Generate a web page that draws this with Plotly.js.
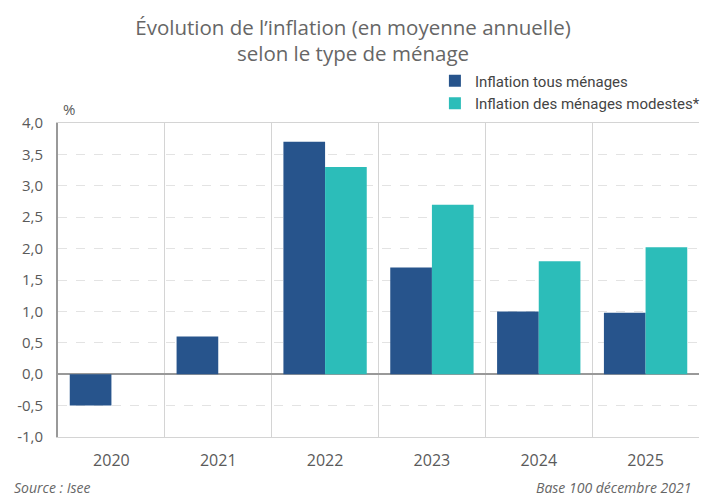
<!DOCTYPE html>
<html>
<head>
<meta charset="utf-8">
<script src="https://cdn.plot.ly/plotly-3.0.1.min.js"></script>
<style>
html,body{margin:0;padding:0;background:#fff;}
#plot{width:706px;height:496px;}
</style>
</head>
<body>
<div id="plot"></div>
<script>
/*data*/
var annees = ['2020', '2021', '2022', '2023', '2024', '2025'];
var tousMenages = [-0.5, 0.6, 3.7, 1.7, 1.0, 0.98];
var menagesModestes = [null, null, 3.3, 2.7, 1.8, 2.02];
var yTicks = [-1, -0.5, 0, 0.5, 1, 1.5, 2, 2.5, 3, 3.5, 4];
var yLabels = ['-1,0', '-0,5', '0,0', '0,5', '1,0', '1,5', '2,0', '2,5', '3,0', '3,5', '4,0'];

var txt = '#5a5a5a';
var fnt = '"Open Sans", sans-serif';

var trc = [];
trc[0] = {
    x: annees,
    y: tousMenages,
    type: 'bar',
    name: 'Inflation tous ménages',
    marker: {color: '#27548c'},
    hoverinfo: 'none'
};
trc[1] = {
    x: annees,
    y: menagesModestes,
    type: 'bar',
    name: 'Inflation des ménages modestes*',
    marker: {color: '#2cbdb9'},
    hoverinfo: 'none'
};

var layout = {
    width: 706,
    height: 496,
    margin: {l: 58, r: 1, t: 123, b: 59, pad: 0},
    paper_bgcolor: '#fff',
    plot_bgcolor: '#fff',
    barmode: 'group',
    bargap: 0.22,
    bargroupgap: 0,
    font: {family: fnt, color: txt},
    title: {
        text: 'Évolution de l’inflation (en moyenne annuelle)<br>selon le type de ménage',
        font: {family: fnt, size: 20.5, color: '#666'},
        x: 0.5,
        xanchor: 'center',
        xref: 'container',
        yref: 'container',
        y: 0.93,
        yanchor: 'middle'
    },
    showlegend: true,
    legend: {
        x: 0.588,
        xanchor: 'left',
        y: 1.099,
        yanchor: 'middle',
        font: {family: 'Roboto, sans-serif', size: 15, color: '#444'},
        itemwidth: 30,
        tracegroupgap: 0,
        traceorder: 'normal',
        bgcolor: 'rgba(0,0,0,0)'
    },
    xaxis: {
        type: 'category',
        tickson: 'boundaries',
        showgrid: true,
        gridcolor: '#d4d4d4',
        gridwidth: 1,
        showline: true,
        linecolor: '#d4d4d4',
        linewidth: 1,
        mirror: true,
        ticks: '',
        tickfont: {family: fnt, size: 16, color: txt},
        ticklabelstandoff: 9,
        fixedrange: true
    },
    yaxis: {
        range: [-1, 4],
        tickvals: yTicks,
        ticktext: yLabels,
        showgrid: true,
        gridcolor: '#e3e3e3',
        griddash: 'dash',
        gridwidth: 1,
        zeroline: true,
        zerolinecolor: '#999',
        zerolinewidth: 2,
        showline: true,
        linecolor: '#999',
        linewidth: 2,
        ticks: '',
        tickfont: {family: fnt, size: 15, color: txt},
        ticklabelstandoff: 10,
        fixedrange: true
    },
    annotations: [
        {text: '%', xref: 'paper', yref: 'paper', x: 0.005, y: 1.005, xanchor: 'left', yanchor: 'bottom',
         showarrow: false, font: {family: fnt, size: 15, color: txt}},
        {text: '<i>Source : Isee</i>', xref: 'paper', yref: 'paper', x: -0.072, y: -0.16, xanchor: 'left', yanchor: 'middle',
         showarrow: false, font: {family: fnt, size: 14, color: '#666'}},
        {text: '<i>Base 100 décembre 2021</i>', xref: 'paper', yref: 'paper', x: 0.99, y: -0.16, xanchor: 'right', yanchor: 'middle',
         showarrow: false, font: {family: fnt, size: 14, color: '#666'}}
    ]
};

Plotly.newPlot('plot', trc, layout, {displayModeBar: false, staticPlot: true});
</script>
</body>
</html>
